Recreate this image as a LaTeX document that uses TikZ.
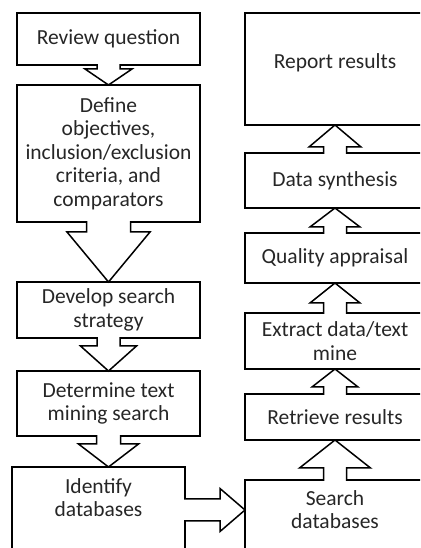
\documentclass[tikz,border=0pt]{standalone}
\usepackage{fontspec}
\setmainfont{Carlito}
\begin{document}
\begin{tikzpicture}[x=1pt,y=1pt,line width=1.5pt,outer sep=0pt,
    box/.style={draw, rectangle, align=center, text=black!85, inner sep=2pt,
      font=\fontsize{21.5}{23.5}\selectfont},
    barrow/.style={draw, fill=white, line join=miter}]
    \useasboundingbox (0,0) rectangle (420,548);
    \clip (0,0) rectangle (420,548);
    % left column
    \node[box, minimum width=183pt, minimum height=52pt]  (rq)  at (108.5,509)   {Review question};
    \node[box, minimum width=183pt, minimum height=137pt] (def) at (108.5,394.5) {Define\\objectives,\\inclusion/exclusion\\criteria, and\\comparators};
    \node[box, minimum width=183pt, minimum height=56pt]  (dev) at (108.5,238)   {Develop search\\strategy};
    \node[box, minimum width=183pt, minimum height=65pt]  (det) at (108.5,144.5) {Determine text\\mining search};
    \node[box, anchor=north west, minimum width=173pt, inner ysep=11pt, text height=39pt, text depth=70pt] (ident) at (12,81) {Identify\\databases};
    % right column
    \node[box, minimum width=180pt, minimum height=112pt, text depth=15pt] (rep) at (335,479) {Report results};
    \node[box, minimum width=180pt, minimum height=55pt]  (syn)  at (335,367.5) {Data synthesis};
    \node[box, minimum width=180pt, minimum height=50pt]  (qual) at (335,290)   {Quality appraisal};
    \node[box, minimum width=180pt, minimum height=56pt]  (ext)  at (335,207)   {Extract data/text\\mine};
    \node[box, minimum width=180pt, minimum height=46pt]  (ret)  at (335,131)   {Retrieve results};
    \node[box, anchor=north west, minimum width=180pt, inner ysep=10pt, text height=39pt, text depth=70pt] (sea) at (245,68) {Search\\databases};
    % block arrows down
    \draw[barrow] ([shift={(-11.5,0.8)}]rq.south) -- ++(0,-4.8) -- ++(-12,0) -- (def.north) -- ++(23.5,16) -- ++(-12,0) -- ([shift={(11.5,0.8)}]rq.south);
    \draw[barrow] ([shift={(-22,0.8)}]def.south) -- ++(0,-10.8) -- ++(-19.5,0) -- (dev.north) -- ++(41.5,50) -- ++(-19.5,0) -- ([shift={(22,0.8)}]def.south);
    \draw[barrow] ([shift={(-11.5,0.8)}]dev.south) -- ++(0,-8.8) -- ++(-16.5,0) -- (det.north) -- ++(28,25) -- ++(-16.5,0) -- ([shift={(11.5,0.8)}]dev.south);
    \draw[barrow] ([shift={(-12,0.8)}]det.south) -- ++(0,-8.8) -- ++(-18,0) -- (det.south |- ident.north) -- ++(30,23) -- ++(-18,0) -- ([shift={(12,0.8)}]det.south);
    % across
    \draw[barrow] ([shift={(-0.8,-32)}]ident.north east) -- ++(35.8,0) -- ++(0,10.5) -- ([yshift=-30]sea.north west) -- ++(-25,-21.5) -- ++(0,10.5) -- ([shift={(-0.8,-54)}]ident.north east);
    % block arrows up
    \draw[barrow] ([shift={(-11.5,-0.8)}]sea.north) -- ++(0,12.8) -- ++(-24,0) -- (ret.south) -- ++(35.5,-28) -- ++(-24,0) -- ([shift={(11.5,-0.8)}]sea.north);
    \draw[barrow] ([shift={(-11.5,-0.8)}]ret.north) -- ++(0,7.8) -- ++(-11.5,0) -- (ext.south) -- ++(23,-18) -- ++(-11.5,0) -- ([shift={(11.5,-0.8)}]ret.north);
    \draw[barrow] ([shift={(-11.5,-0.8)}]ext.north) -- ++(0,10.8) -- ++(-13.5,0) -- (qual.south) -- ++(25,-20) -- ++(-13.5,0) -- ([shift={(11.5,-0.8)}]ext.north);
    \draw[barrow] ([shift={(-11.5,-0.8)}]qual.north) -- ++(0,6.8) -- ++(-13.5,0) -- (syn.south) -- ++(25,-19) -- ++(-13.5,0) -- ([shift={(11.5,-0.8)}]qual.north);
    \draw[barrow] ([shift={(-11.5,-0.8)}]syn.north) -- ++(0,6.8) -- ++(-14.5,0) -- (rep.south) -- ++(26,-22) -- ++(-14.5,0) -- ([shift={(11.5,-0.8)}]syn.north);
\end{tikzpicture}
\end{document}
